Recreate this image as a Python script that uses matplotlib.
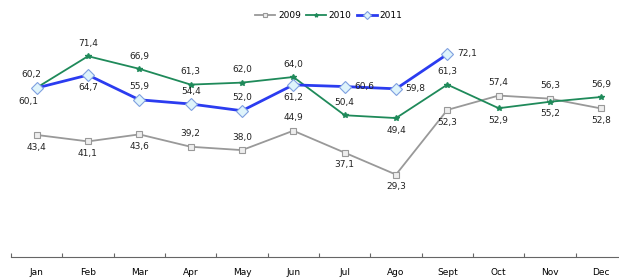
import numpy as np
import matplotlib
matplotlib.use('Agg')
import matplotlib.pyplot as plt


months = ['Jan', 'Feb', 'Mar', 'Apr', 'May', 'Jun', 'Jul', 'Ago', 'Sept', 'Oct', 'Nov', 'Dec']
v2009 = [43.4, 41.1, 43.6, 39.2, 38.0, 44.9, 37.1, 29.3, 52.3, 57.4, 56.3, 52.8]
v2010 = [60.2, 71.4, 66.9, 61.3, 62.0, 64.0, 50.4, 49.4, 61.3, 52.9, 55.2, 56.9]
v2011 = [60.1, 64.7, 55.9, 54.4, 52.0, 61.2, 60.6, 59.8, 72.1]

# where each value label sits relative to its point (dx, dy in points)
off2009 = ['b', 'b', 'b', 'a', 'a', 'a', 'b', 'b', 'b', 'a', 'a', 'b']
off2010 = ['al', 'a', 'a', 'a', 'a', 'a', 'a', 'b', 'a', 'b', 'b', 'a']
off2011 = ['bl', 'b', 'a', 'a', 'a', 'b', 'r', 'r', 'r']

offsets = {'a': (0, 6), 'b': (0, -12), 'al': (-4, 6), 'bl': (-6, -13), 'r': (14, -3)}

fig = plt.figure(figsize=(6.19, 2.8), dpi=100)
ax = fig.add_axes([11 / 619, 23 / 280, 616 / 619, 225 / 280])

x = np.arange(len(months))
ax.plot(x, v2009, color='#999999', lw=1.3, marker='s', ms=4,
        mfc='#eeeeee', mec='#999999', mew=0.8, label='2009')
ax.plot(x, v2010, color='#1f8a5a', lw=1.3, marker='*', ms=4,
        mfc='#1f8a5a', mec='#1f8a5a', label='2010')
ax.plot(x[:len(v2011)], v2011, color='#2b3cf0', lw=2.0, marker='D', ms=6,
        mfc='#dff4fb', mec='#7fa0e0', mew=0.8, label='2011')

for vals, offs in [(v2009, off2009), (v2010, off2010), (v2011, off2011)]:
    for i, (v, o) in enumerate(zip(vals, offs)):
        dx, dy = offsets[o]
        ax.annotate(f'{v:.1f}'.replace('.', ','), (i, v), xytext=(dx, dy),
                    textcoords='offset points', ha='center', va='bottom',
                    fontsize=6.5, color='#222222')

ax.set_xlim(-0.5, 11.5)
ax.set_ylim(0, 80)
for s in ['top', 'right', 'left']:
    ax.spines[s].set_visible(False)
ax.spines['bottom'].set_color('#666666')
ax.set_yticks([])
ax.set_xticks(np.arange(-0.5, 12, 1))
ax.set_xticklabels([])
ax.tick_params(axis='x', which='major', direction='in', length=3, color='#666666')
ax.set_xticks(x, minor=True)
ax.set_xticklabels(months, minor=True, fontsize=6.5)
ax.tick_params(axis='x', which='minor', length=0, pad=8)

ax.legend(loc='upper center', bbox_to_anchor=(318 / 616, 1.13), ncol=3, frameon=False,
          fontsize=6.5, handlelength=2.2, handletextpad=0.3, columnspacing=0.6,
          markerscale=0.7)

fig.savefig('out.png', dpi=100)
